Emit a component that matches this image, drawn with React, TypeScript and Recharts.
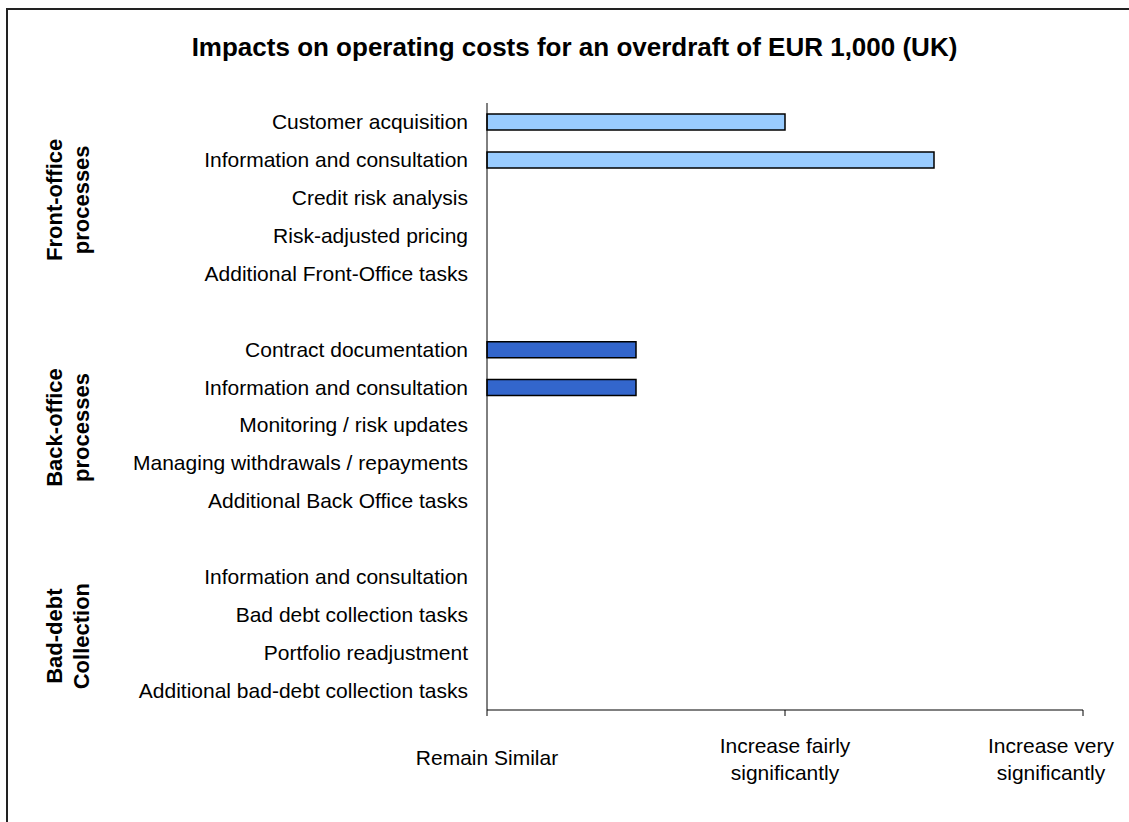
import { BarChart, Bar, XAxis, YAxis, Cell } from 'recharts';

// rows of the chart, blank strings are the spacer rows between process groups
const categories = [
  'Customer acquisition',
  'Information and consultation',
  'Credit risk analysis',
  'Risk-adjusted pricing',
  'Additional Front-Office tasks',
  '',
  'Contract documentation',
  'Information and consultation',
  'Monitoring / risk updates',
  'Managing withdrawals / repayments',
  'Additional Back Office tasks',
  '',
  'Information and consultation',
  'Bad debt collection tasks',
  'Portfolio readjustment',
  'Additional bad-debt collection tasks',
];

// 0 = remain similar, 1 = increase fairly significantly, 2 = increase very significantly
const impactValues = [1, 1.5, 0, 0, 0, null, 0.5, 0.5, 0, 0, 0, null, 0, 0, 0, 0];

// which group each row belongs to (-1 = spacer)
const rowGroups = [0, 0, 0, 0, 0, -1, 1, 1, 1, 1, 1, -1, 2, 2, 2, 2];
const groupNames = [
  ['Front-office', 'processes'],
  ['Back-office', 'processes'],
  ['Bad-debt', 'Collection'],
];
const groupColors = ['#99CCFF', '#3366CC', '#3366CC'];

const xTicks = [0, 1, 2];
const xTickLabels = [
  ['Remain Similar'],
  ['Increase fairly', 'significantly'],
  ['Increase very', 'significantly'],
];

const TITLE = 'Impacts on operating costs for an overdraft of EUR 1,000 (UK)';
const FONT = '"Liberation Sans", Arial, sans-serif';

const WIDTH = 1129;
const HEIGHT = 822;
const PLOT_LEFT = 487;
const PLOT_RIGHT = 1083;
const PLOT_TOP = 103;
const PLOT_BOTTOM = 710;
const BAND = (PLOT_BOTTOM - PLOT_TOP) / categories.length;

const data = categories.map((name, i) => ({
  id: `row-${i}`,
  name,
  value: impactValues[i],
  group: rowGroups[i],
}));

const CategoryTick = ({ x, y, index }: any) => {
  const row = data[index];
  if (!row) return null;
  const g = row.group;
  const isGroupStart = g >= 0 && rowGroups.indexOf(g) === index;
  const groupCount = rowGroups.filter((r) => r === g).length;
  const cy = y + ((groupCount - 1) / 2) * BAND;
  return (
    <g>
      <text
        x={x - 11}
        y={y}
        dy={7}
        textAnchor="end"
        fontFamily={FONT}
        fontSize={21}
        fill="#000"
      >
        {row.name}
      </text>
      {isGroupStart && (
        <text
          transform={`translate(62, ${cy + 2}) rotate(-90)`}
          textAnchor="middle"
          fontFamily={FONT}
          fontSize={22}
          fontWeight="bold"
          fill="#000"
        >
          <tspan x={0} y={0}>{groupNames[g][0]}</tspan>
          <tspan x={0} y={27}>{groupNames[g][1]}</tspan>
        </text>
      )}
    </g>
  );
};

const ImpactTick = ({ x, y, payload }: any) => {
  const lines = xTickLabels[xTicks.indexOf(payload.value)] || [];
  const top = lines.length === 1 ? 47 : 35;
  // keep the right-most label inside the frame, as the original does
  const cx = Math.min(x, WIDTH - 78);
  return (
    <text x={cx} y={y} textAnchor="middle" fontFamily={FONT} fontSize={21} fill="#000">
      {lines.map((line, i) => (
        <tspan key={i} x={cx} y={y + top + i * 27}>
          {line}
        </tspan>
      ))}
    </text>
  );
};

export default function App() {
  return (
    <div
      style={{
        position: 'absolute',
        left: 0,
        top: 0,
        width: WIDTH,
        height: HEIGHT,
        overflow: 'hidden',
        background: '#fff',
      }}
    >
      <div
        style={{
          position: 'absolute',
          left: 6,
          top: 8,
          width: 1300,
          height: 1000,
          border: '2px solid #222',
        }}
      />
      <div
        style={{
          position: 'absolute',
          left: 0,
          width: 1149,
          top: 35,
          textAlign: 'center',
          fontFamily: FONT,
          fontSize: 26,
          lineHeight: '25px',
          fontWeight: 'bold',
          whiteSpace: 'nowrap',
        }}
      >
        {TITLE}
      </div>
      <div style={{ position: 'absolute', left: 0, top: 0 }}>
        <BarChart
          width={WIDTH}
          height={HEIGHT}
          data={data}
          layout="vertical"
          margin={{ top: PLOT_TOP, right: WIDTH - PLOT_RIGHT, left: 0, bottom: 0 }}
        >
          <XAxis
            type="number"
            domain={[0, 2]}
            ticks={xTicks}
            interval={0}
            height={HEIGHT - PLOT_BOTTOM}
            axisLine={{ stroke: '#808080', strokeWidth: 2 }}
            tickLine={{ stroke: '#000', strokeWidth: 1 }}
            tickSize={6}
            tick={<ImpactTick />}
          />
          <YAxis
            type="category"
            dataKey="id"
            width={PLOT_LEFT}
            interval={0}
            axisLine={{ stroke: '#000', strokeWidth: 1 }}
            tickLine={false}
            tick={<CategoryTick />}
          />
          <Bar dataKey="value" barSize={16} stroke="#000" strokeWidth={1.5} isAnimationActive={false}>
            {data.map((row, i) => (
              <Cell key={`cell-${i}`} fill={row.group >= 0 ? groupColors[row.group] : 'none'} />
            ))}
          </Bar>
        </BarChart>
      </div>
    </div>
  );
}
